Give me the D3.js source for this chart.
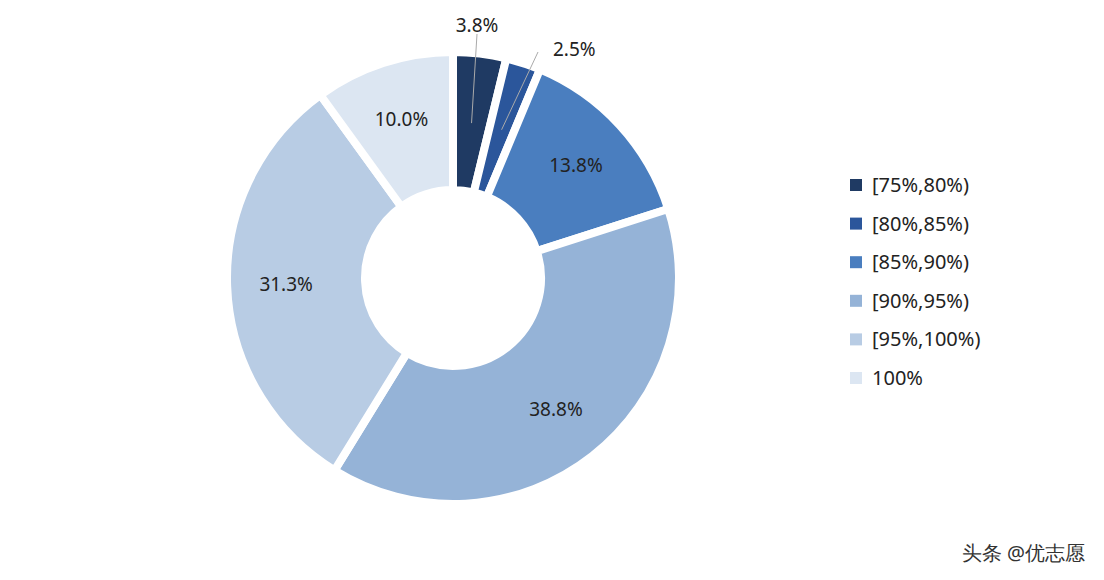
<!DOCTYPE html><html><head><meta charset="utf-8"><script src="https://cdn.jsdelivr.net/npm/d3@7"></script>
<style>body{margin:0;background:#fff}text{font-family:"Segoe UI","Noto Sans","Open Sans",sans-serif}</style></head><body><svg id="c" width="1104" height="580"></svg><script>
const categories=["[75%,80%)","[80%,85%)","[85%,90%)","[90%,95%)","[95%,100%)","100%"];
const values=[3.8,2.5,13.8,38.8,31.3,10.0];
const colors=["#1f3a63","#2b569b","#4a7ebf","#95b3d7","#b8cce4","#dce6f2"];
const svg=d3.select("#c");
const cx=453,cy=278,R=226,r=88;
const g=svg.append("g").attr("transform",`translate(${cx},${cy})`);
const pie=d3.pie().sort(null).value(d=>d)(values);
const arc=d3.arc().innerRadius(r).outerRadius(R);
g.selectAll("path").data(pie).join("path").attr("d",arc).attr("fill",(d,i)=>colors[i]).attr("stroke","#fff").attr("stroke-width",8).attr("stroke-linejoin","miter");
const lab=d3.arc().innerRadius((r+R)/2+10).outerRadius((r+R)/2+10);
pie.forEach((d,i)=>{
 if(i<2){
  const a=(d.startAngle+d.endAngle)/2;
  const p0=d3.arc().innerRadius(R-70).outerRadius(R-70).centroid(d);
  const p1=i==0?[24,-244]:[85,-226];
  g.append("line").attr("x1",p0[0]).attr("y1",p0[1]).attr("x2",p1[0]).attr("y2",p1[1]).attr("stroke","#aaa").attr("stroke-width",1);
  g.append("text").attr("x",i==0?24:100).attr("y",i==0?-246:-222).attr("text-anchor",i==0?"middle":"start").attr("font-size",19).attr("fill","#222").text(values[i].toFixed(1)+"%");
 }else{
  const c=lab.centroid(d);
  g.append("text").attr("x",c[0]).attr("y",c[1]).attr("dy","0.35em").attr("text-anchor","middle").attr("font-size",19).attr("fill","#222").text(values[i].toFixed(1)+"%");
 }
});
const lg=svg.append("g").attr("transform","translate(850,185)");
categories.forEach((c,i)=>{
 lg.append("rect").attr("x",0).attr("y",i*38.6-6).attr("width",12).attr("height",12).attr("fill",colors[i]);
 lg.append("text").attr("x",22).attr("y",i*38.6).attr("dy","0.35em").attr("font-size",20).attr("fill","#222").text(c);
});
svg.append("text").attr("x",1085).attr("y",560).attr("text-anchor","end").attr("font-family","Noto Sans CJK SC").attr("font-size",20).attr("fill","#333").text("头条 @优志愿");
</script></body></html>
